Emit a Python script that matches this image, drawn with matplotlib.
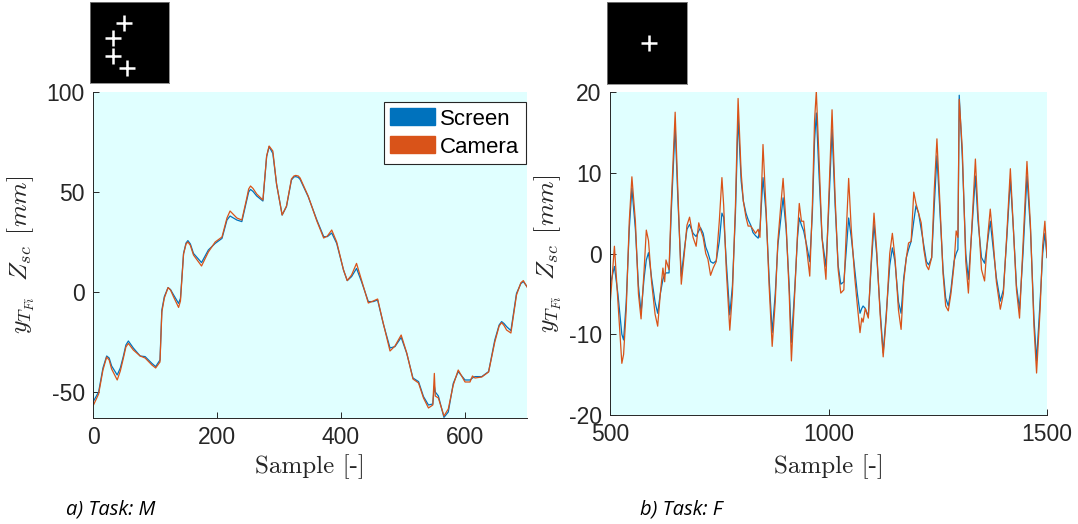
import numpy as np
import matplotlib
matplotlib.use("Agg")
import matplotlib.pyplot as plt
from matplotlib.patches import Patch

plt.rcParams['mathtext.fontset'] = 'cm'
plt.rcParams['axes.unicode_minus'] = False
plt.rcParams['font.family'] = ['Liberation Sans', 'DejaVu Sans']

# ---- Task M (left) ----
x_m = [0, 9, 16, 22, 26, 30, 39, 44, 49, 53, 57, 65, 76, 84, 95, 101, 108, 111, 115, 121,
       125, 130, 138, 141, 146, 150, 153, 157, 162, 175, 186, 197, 208, 216, 221, 232, 240,
       248, 251, 254, 258, 264, 274, 280, 284, 290, 296, 305, 312, 320, 324, 327, 331, 334,
       347, 361, 372, 378, 385, 393, 404, 410, 417, 425, 433, 444, 452, 459, 468, 479, 487,
       497, 506, 516, 525, 533, 541, 548, 550.5, 552, 557, 566, 573, 581, 589, 600, 608,
       612, 616, 627, 638, 648, 655, 659, 663, 667, 674, 683, 690, 694, 700]
screen_m = [-55, -50, -38, -32, -33, -37, -41.5, -38, -32, -26.5, -24.5, -28, -32, -32.3,
            -35.7, -37.3, -34, -9, -2.3, 2.2, 1.2, -1.5, -5.7, -3.2, 19.3, 24.5, 25.7, 24,
            19.3, 14.7, 21, 24.3, 26.8, 36, 38, 36, 35.2, 46, 50, 51.3, 50.3, 48, 45.5, 67.7,
            72.7, 69.3, 54, 38.5, 42.7, 56, 57.5, 57.7, 57.3, 56.3, 47.7, 36, 27.7, 27.7,
            29.5, 24.3, 11, 5.7, 7.7, 11.8, 5.2, -4.8, -4.8, -4, -15.7, -28, -27.3, -22.7,
            -30.7, -43, -44.8, -52.3, -56.5, -56, -47, -50, -52, -62.7, -60, -45.7, -39.8,
            -44, -44, -43, -42.3, -42.3, -39.8, -24, -16.5, -14.8, -15.8, -17.3, -19.3, -0.7,
            4.2, 5.2, 2.7]
camera_m = [-57, -51, -39, -32.5, -34, -38.5, -44, -39.5, -33, -27.5, -25.7, -29, -32, -33,
            -36.5, -38, -35, -10, -3, 2.2, 1.0, -2.5, -7.7, -4.5, 19, 24, 25, 23.3, 18.5, 13,
            20, 25, 27.5, 37, 40.5, 37, 36, 47, 51.5, 53, 51.8, 49, 46, 68, 73, 70.5, 54,
            38.5, 43, 56.5, 58, 58.3, 58, 57, 48, 35.5, 27, 28, 31, 25, 11, 5.7, 8.5, 14.3,
            6, -5.5, -4.5, -3.5, -15.5, -29.5, -27, -21.5, -30.5, -43.5, -45.5, -53, -58,
            -56.5, -40.7, -52, -53, -62, -58.5, -46.5, -39, -45, -45, -42, -43, -42.5, -40,
            -25, -17, -15.3, -16.8, -19, -20.5, -1.5, 4.6, 5.7, 2.5]

# ---- Task F (right) ----
x_f = [500, 510, 518, 527, 531, 537, 544, 550, 558, 565, 571, 578, 583, 588, 595, 603, 609,
       615, 621, 625, 628, 635, 640, 649, 655, 663, 670, 676, 682, 690, 697, 703, 707, 713,
       719, 724, 730, 736, 743, 750, 756, 760, 766, 774, 780, 787, 793, 800, 805, 811, 816,
       822, 827, 833, 839, 843, 850, 857, 864, 871, 878, 884, 890, 896, 903, 910, 915, 923,
       929, 933, 938, 943, 950, 957, 963, 968, 972, 978, 985, 994, 1000, 1008, 1015, 1022,
       1028, 1035, 1040, 1046, 1052, 1060, 1066, 1072, 1076, 1079, 1084, 1091, 1097, 1104,
       1110, 1118, 1125, 1132, 1140, 1146, 1152, 1160, 1166, 1172, 1178, 1183, 1189, 1195,
       1200, 1206, 1212, 1218, 1224, 1229, 1236, 1242, 1248, 1255, 1262, 1268, 1274, 1280,
       1287, 1292, 1296, 1299, 1306, 1314, 1320, 1328, 1336, 1342, 1350, 1357, 1364, 1370,
       1376, 1384, 1393, 1400, 1408, 1416, 1423, 1430, 1437, 1445, 1454, 1462, 1470, 1476,
       1484, 1490, 1495, 1500]
screen_f = [-4.0, -1.6, -5.0, -10.0, -10.7, -6.0, 3.0, 8.1, 3.0, -4.0, -7.3, -3.0, -0.8, 0.1,
            -3.0, -6.0, -7.4, -5.0, -3.2, -2.6, -2.4, -2.4, 5.0, 15.8, 7.0, -2.8, 0.5, 3.0,
            3.6, 2.5, 2.1, 2.8, 3.2, 2.5, 0.8, 0.1, -1.0, -1.2, -0.9, 1.5, 5.0, 4.5, -1.0,
            -7.6, -4.0, 5.0, 17.0, 9.0, 6.5, 5.0, 4.2, 3.5, 2.6, 2.2, 1.9, 3.0, 9.4, 5.0,
            -3.0, -9.8, -5.0, 1.0, 4.0, 6.9, 3.0, -4.0, -11.0, -4.0, 2.0, 4.4, 3.5, 2.8, 1.0,
            -1.0, 5.0, 14.0, 17.4, 10.0, 2.0, -1.6, 5.0, 15.4, 6.0, -1.5, -3.8, -3.5, 0.0,
            4.4, 2.0, -2.0, -5.0, -7.4, -6.8, -6.5, -6.8, -7.8, -2.0, 3.6, 0.0, -7.0, -12.3,
            -7.5, -1.5, 0.7, -1.0, -6.0, -7.4, -3.0, -0.5, 0.5, 1.5, 4.0, 5.9, 5.0, 3.0, 1.0,
            -1.0, -1.4, -0.5, 6.0, 12.1, 5.0, -2.0, -5.5, -6.5, -4.5, -1.0, 0.0, 0.5, 19.6,
            12.0, 0.0, -3.2, 3.0, 9.6, 4.0, -0.5, -1.2, 1.5, 4.0, 1.0, -3.0, -5.9, -4.5, 2.0,
            9.2, 3.0, -4.0, -6.9, 0.0, 9.6, 3.0, -8.0, -13.3, -6.0, 0.0, 2.5, -0.5]
camera_f = [-6.5, 0.9, -6.0, -13.6, -12.5, -7.0, 4.0, 9.5, 4.0, -5.0, -8.1, -2.0, 2.9, 1.6,
            -3.5, -7.5, -9.0, -5.0, -1.8, -3.5, -0.8, -2.0, 6.0, 17.5, 8.0, -3.8, 0.0, 3.5,
            4.5, 2.0, 0.9, 3.8, 3.0, 2.0, 0.0, -0.7, -2.7, -1.8, -1.0, 4.0, 9.4, 6.0, -2.0,
            -9.5, -5.0, 6.0, 19.2, 10.0, 6.5, 4.5, 3.4, 3.4, 3.0, 2.5, 3.0, 2.0, 13.5, 5.5,
            -4.0, -11.5, -6.0, 1.5, 5.5, 9.3, 3.5, -5.0, -13.3, -4.5, 2.5, 6.2, 4.0, 4.0, 0.5,
            -2.8, 6.0, 16.5, 20.1, 12.0, 2.0, -3.2, 6.0, 17.8, 7.0, -2.0, -4.9, -4.5, 2.0,
            9.3, 3.0, -3.0, -6.5, -9.8, -8.0, -8.5, -6.8, -8.0, -1.5, 5.0, 0.5, -7.5, -12.8,
            -8.0, 0.0, 2.5, -0.5, -7.0, -9.4, -3.5, -0.5, 1.3, 1.5, 7.6, 6.2, 5.0, 3.8, 0.5,
            -1.5, -2.0, -0.5, 8.0, 14.2, 6.0, -2.5, -6.5, -7.1, -5.0, -1.5, 2.8, 2.0, 19.1,
            13.0, -1.0, -4.9, 3.5, 11.7, 5.0, -2.0, -3.4, 2.0, 5.5, 2.0, -3.5, -6.9, -5.0, 2.5,
            10.5, 3.0, -4.5, -8.0, 1.0, 11.4, 3.5, -9.0, -14.8, -7.0, 1.0, 4.0, -0.5]

# target markers shown in the small black pictures
targets_m_x = [0.43, 0.29, 0.29, 0.47]
targets_m_y = [0.74, 0.56, 0.33, 0.18]
targets_f_x = [0.525]
targets_f_y = [0.50]

blue = '#0072BD'
orange = '#D95319'
gray = '#262626'

fig = plt.figure(figsize=(10.78, 5.24), dpi=100)

panels = [
    dict(rect=[0.0863, 0.2023, 0.4026, 0.6221], x=x_m, s=screen_m, c=camera_m,
         xlim=(0, 700), ylim=(-63, 100), xt=[0, 200, 400, 600], yt=[-50, 0, 50, 100],
         img=[0.0835, 0.8416, 0.0733, 0.1546], tx=targets_m_x, ty=targets_m_y,
         cap='a) Task: M', capx=66, ylx=-0.128, xly=-0.112, legend=True),
    dict(rect=[0.5659, 0.208, 0.4054, 0.6164], x=x_f, s=screen_f, c=camera_f,
         xlim=(500, 1500), ylim=(-20, 20), xt=[500, 1000, 1500], yt=[-20, -10, 0, 10, 20],
         img=[0.5631, 0.8397, 0.0742, 0.1565], tx=targets_f_x, ty=targets_f_y,
         cap='b) Task: F', capx=640, ylx=-0.106, xly=-0.122, legend=False),
]

for p in panels:
    ax = fig.add_axes(p['rect'])
    ax.set_facecolor('#E0FFFF')
    ax.plot(p['x'], p['s'], color=blue, lw=0.9)
    ax.plot(p['x'], p['c'], color=orange, lw=0.9)
    ax.set_xlim(*p['xlim'])
    ax.set_ylim(*p['ylim'])
    ax.set_xticks(p['xt'])
    ax.set_yticks(p['yt'])
    ax.tick_params(direction='in', length=4, width=0.7, colors=gray, labelsize=16.5,
                   labelcolor=gray, pad=6)
    for side in ['top', 'right']:
        ax.spines[side].set_visible(False)
    for side in ['left', 'bottom']:
        ax.spines[side].set_color(gray)
        ax.spines[side].set_linewidth(0.7)
    ax.set_xlabel('Sample [-]', family='cmr10', fontsize=18, color=gray)
    ax.set_ylabel(r'$y_{T_{Fi}}\ \ Z_{sc}\ \,[mm]$', fontsize=18.5, color=gray)
    ax.xaxis.set_label_coords(0.5, p['xly'])
    ax.yaxis.set_label_coords(p['ylx'], 0.5)

    if p['legend']:
        handles = [Patch(color=blue), Patch(color=orange)]
        leg = ax.legend(handles, ['Screen', 'Camera'], loc='upper right',
                        bbox_to_anchor=(0.998, 0.97), borderaxespad=0, fontsize=16,
                        fancybox=False, framealpha=1, edgecolor='#262626',
                        handlelength=2.0, handleheight=0.8, handletextpad=0.25,
                        labelspacing=0.3, borderpad=0.3)
        leg.get_frame().set_linewidth(0.8)

    im = fig.add_axes(p['img'])
    im.set_facecolor('black')
    im.plot(p['tx'], p['ty'], '+', color='white', markersize=12, mew=1.8)
    im.set_xlim(0, 1)
    im.set_ylim(0, 1)
    im.set_xticks([])
    im.set_yticks([])
    for sp in im.spines.values():
        sp.set_color('#808080')
        sp.set_linewidth(0.6)

    fig.text(p['capx'] / 1078, 14 / 524, p['cap'], family='Open Sans', style='italic',
             fontsize=14.5, va='center', ha='left', color='black')

fig.savefig('out.png', dpi=100)
